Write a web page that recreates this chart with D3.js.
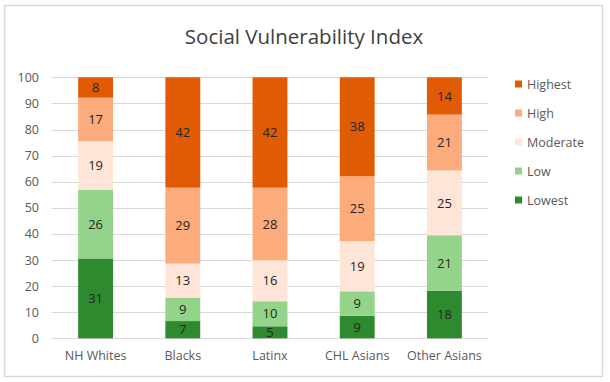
<!DOCTYPE html>
<html>
<head>
<meta charset="utf-8">
<script src="https://cdn.jsdelivr.net/npm/d3@7"></script>
<style>
  html, body { margin: 0; padding: 0; background: #fff; }
  svg { display: block; font-family: "Open Sans", "Noto Sans", sans-serif; }
</style>
</head>
<body>
<svg id="chart" width="610" height="382"></svg>
<script>
// ---- data ----
const title = "Social Vulnerability Index";
const categories = ["NH Whites", "Blacks", "Latinx", "CHL Asians", "Other Asians"];
const seriesNames = ["Lowest", "Low", "Moderate", "High", "Highest"];
const lowest   = [30.6, 6.6, 4.6, 8.6, 18.2];
const low      = [26.4, 9.0, 9.6, 9.4, 21.3];
const moderate = [18.6, 13.0, 15.7, 19.2, 24.8];
const high     = [16.6, 29.1, 27.8, 24.9, 21.4];
const highest  = [7.8, 42.3, 42.3, 37.9, 14.3];
const yTicks = [0, 10, 20, 30, 40, 50, 60, 70, 80, 90, 100];
const colors = ["#2e8a2e", "#93d38a", "#fee5d8", "#fbab7c", "#e05b04"];

const seriesValues = [lowest, low, moderate, high, highest];
const table = categories.map((c, i) => {
  const row = { category: c };
  seriesNames.forEach((s, j) => row[s] = seriesValues[j][i]);
  return row;
});

const svg = d3.select("#chart");

// outer border
svg.append("rect")
  .attr("x", 4.5).attr("y", 5.5).attr("width", 598).attr("height", 371)
  .attr("fill", "#fff").attr("stroke", "#d9d9d9").attr("stroke-width", 1.5);

// title
svg.append("text")
  .attr("x", 304).attr("y", 44)
  .attr("text-anchor", "middle")
  .attr("font-size", 20.5)
  .attr("fill", "#404040")
  .text(title);

const x = d3.scaleBand().domain(categories).range([52, 488]).paddingInner(0.6).paddingOuter(0.3);
const y = d3.scaleLinear().domain([0, 100]).range([338.3, 77.3]);

// gridlines
svg.append("g")
  .selectAll("line")
  .data(yTicks)
  .join("line")
  .attr("x1", 52).attr("x2", 488)
  .attr("y1", d => Math.round(y(d)) + 0.5).attr("y2", d => Math.round(y(d)) + 0.5)
  .attr("stroke", "#d9d9d9").attr("stroke-width", 1.2);

// y axis
const yAxis = svg.append("g")
  .attr("transform", "translate(52,0)")
  .call(d3.axisLeft(y).tickValues(yTicks).tickSize(0).tickPadding(13));
yAxis.select(".domain").remove();
yAxis.selectAll("text").attr("font-size", 12.5).attr("fill", "#595959")
  .attr("font-family", "'Open Sans', 'Noto Sans', sans-serif");

// x axis
const xAxis = svg.append("g")
  .attr("transform", "translate(0,338.3)")
  .call(d3.axisBottom(x).tickSize(0).tickPadding(13));
xAxis.select(".domain").remove();
xAxis.selectAll("text").attr("font-size", 12.5).attr("fill", "#595959")
  .attr("font-family", "'Open Sans', 'Noto Sans', sans-serif");

// stacks
const stack = d3.stack().keys(seriesNames);
const stacked = stack(table);

const groups = svg.append("g").selectAll("g")
  .data(stacked)
  .join("g")
  .attr("fill", (d, i) => colors[i]);

groups.selectAll("rect")
  .data(d => d.map(v => ({ v, key: d.key })))
  .join("rect")
  .attr("x", d => x(d.v.data.category))
  .attr("y", d => y(d.v[1]))
  .attr("width", x.bandwidth())
  .attr("height", d => y(d.v[0]) - y(d.v[1]));

groups.selectAll("text")
  .data(d => d.map(v => ({ v, key: d.key })))
  .join("text")
  .attr("x", d => x(d.v.data.category) + x.bandwidth() / 2)
  .attr("y", d => (y(d.v[0]) + y(d.v[1])) / 2)
  .attr("dy", "0.36em")
  .attr("text-anchor", "middle")
  .attr("font-size", 13)
  .attr("fill", "#262626")
  .text(d => Math.round(d.v[1] - d.v[0]));

// legend
const legend = svg.append("g");
const legendOrder = seriesNames.slice().reverse();
const legendY = d3.scalePoint().domain(legendOrder).range([84, 200]);
legend.selectAll("rect")
  .data(legendOrder)
  .join("rect")
  .attr("x", 515).attr("y", d => legendY(d) - 3.5)
  .attr("width", 7).attr("height", 7)
  .attr("fill", d => colors[seriesNames.indexOf(d)]);
legend.selectAll("text")
  .data(legendOrder)
  .join("text")
  .attr("x", 527).attr("y", d => legendY(d))
  .attr("dy", "0.36em")
  .attr("font-size", 12.5)
  .attr("fill", "#595959")
  .text(d => d);
</script>
</body>
</html>
